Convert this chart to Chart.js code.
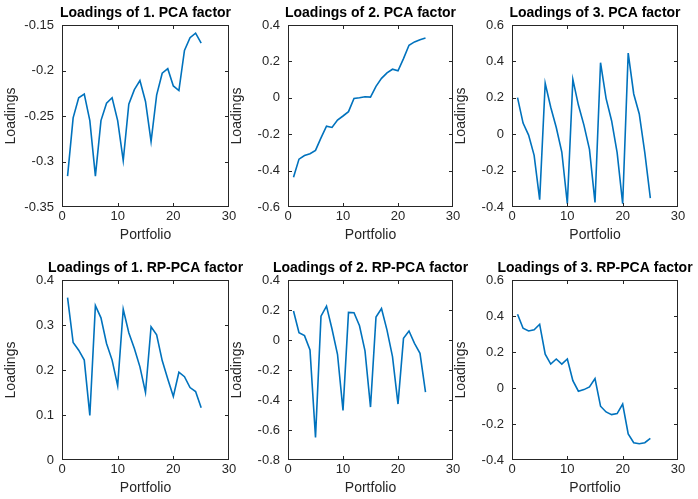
<!DOCTYPE html>
<html>
<head>
<meta charset="utf-8">
<script src="https://cdn.jsdelivr.net/npm/chart.js@4.4.0/dist/chart.umd.min.js"></script>
<style>
  body { margin: 0; background: #fff; width: 698px; height: 499px; position: relative; overflow: hidden; }
  canvas { position: absolute; }
</style>
</head>
<body>
<canvas id="p1"></canvas>
<canvas id="p2"></canvas>
<canvas id="p3"></canvas>
<canvas id="p4"></canvas>
<canvas id="p5"></canvas>
<canvas id="p6"></canvas>
<script>
// portfolio index on the x axis
const portfolios = [1, 2, 3, 4, 5, 6, 7, 8, 9, 10, 11, 12, 13, 14, 15, 16, 17, 18, 19, 20, 21, 22, 23, 24, 25];

// loadings
const pca1 = [-0.316, -0.252, -0.230, -0.226, -0.255, -0.316, -0.255, -0.236, -0.230, -0.255,
  -0.299, -0.237, -0.221, -0.211, -0.234, -0.278, -0.227, -0.203, -0.198, -0.217,
  -0.222, -0.178, -0.164, -0.159, -0.170];
const pca2 = [-0.437, -0.337, -0.317, -0.307, -0.289, -0.220, -0.156, -0.163, -0.122, -0.100,
  -0.076, -0.004, 0.000, 0.006, 0.004, 0.063, 0.107, 0.137, 0.157, 0.148,
  0.215, 0.289, 0.307, 0.319, 0.328];
const pca3 = [0.201, 0.061, -0.005, -0.116, -0.360, 0.280, 0.148, 0.037, -0.098, -0.382,
  0.301, 0.160, 0.050, -0.083, -0.375, 0.393, 0.197, 0.074, -0.101, -0.382,
  0.446, 0.221, 0.111, -0.101, -0.351];
const rppca1 = [0.361, 0.261, 0.244, 0.222, 0.099, 0.343, 0.316, 0.259, 0.222, 0.165,
  0.335, 0.283, 0.248, 0.207, 0.150, 0.296, 0.278, 0.221, 0.180, 0.141,
  0.195, 0.185, 0.161, 0.152, 0.116];
const rppca2 = [0.193, 0.049, 0.029, -0.066, -0.649, 0.159, 0.226, 0.073, -0.095, -0.469,
  0.184, 0.182, 0.095, -0.073, -0.447, 0.153, 0.210, 0.066, -0.111, -0.427,
  0.011, 0.060, -0.022, -0.089, -0.348];
const rppca3 = [0.410, 0.332, 0.317, 0.323, 0.354, 0.188, 0.133, 0.161, 0.133, 0.161,
  0.041, -0.018, -0.009, 0.006, 0.052, -0.101, -0.133, -0.148, -0.142, -0.089,
  -0.255, -0.304, -0.310, -0.304, -0.280];

// tick labels
const xTicks = [0, 10, 20, 30];
const pca1Ticks = [-0.35, -0.3, -0.25, -0.2, -0.15];
const pca2Ticks = [-0.6, -0.4, -0.2, 0, 0.2, 0.4];
const pca3Ticks = [-0.4, -0.2, 0, 0.2, 0.4, 0.6];
const rppca1Ticks = [0, 0.1, 0.2, 0.3, 0.4];
const rppca2Ticks = [-0.8, -0.6, -0.4, -0.2, 0, 0.2, 0.4];
const rppca3Ticks = [-0.4, -0.2, 0, 0.2, 0.4, 0.6];

const titles = [
  'Loadings of 1. PCA factor', 'Loadings of 2. PCA factor', 'Loadings of 3. PCA factor',
  'Loadings of 1. RP-PCA factor', 'Loadings of 2. RP-PCA factor', 'Loadings of 3. RP-PCA factor'
];

const FONT = '"Liberation Sans", Arial, Helvetica, sans-serif';
const AXIS_COLOR = '#262626';
const Y_AXIS_W = 62, X_AXIS_H = 43, TOP_PAD = 25, RIGHT_PAD = 30;

// box around the axes, inward ticks on all four sides, title centred over the plot
const matlabAxes = {
  id: 'matlabAxes',
  afterDraw(chart, args, opts) {
    const { ctx, chartArea: a, scales } = chart;
    const l = Math.round(a.left), r = Math.round(a.right) - 1;
    const t = Math.round(a.top), b = Math.round(a.bottom) - 1;
    ctx.save();
    ctx.fillStyle = AXIS_COLOR;
    // box, 1px lines
    ctx.fillRect(l, t, r - l + 1, 1);
    ctx.fillRect(l, b, r - l + 1, 1);
    ctx.fillRect(l, t, 1, b - t + 1);
    ctx.fillRect(r, t, 1, b - t + 1);
    // ticks pointing into the plot
    xTicks.forEach(v => {
      const px = Math.min(r, Math.round(scales.x.getPixelForValue(v)));
      ctx.fillRect(px, b - 3, 1, 3);
      ctx.fillRect(px, t + 1, 1, 3);
    });
    opts.yTicks.forEach(v => {
      const py = Math.min(b, Math.round(scales.y.getPixelForValue(v)));
      ctx.fillRect(l + 1, py, 3, 1);
      ctx.fillRect(r - 3, py, 3, 1);
    });

    ctx.fillStyle = '#000';
    ctx.font = 'bold 14px ' + FONT;
    ctx.textAlign = 'center';
    ctx.textBaseline = 'alphabetic';
    ctx.fillText(opts.text, (a.left + a.right) / 2, a.top - 8.5);
    ctx.restore();
  }
};

const panels = [
  { id: 'p1', values: pca1, ticks: pca1Ticks, left: 0, top: 0, w: 167, h: 182 },
  { id: 'p2', values: pca2, ticks: pca2Ticks, left: 226, top: 0, w: 165, h: 182 },
  { id: 'p3', values: pca3, ticks: pca3Ticks, left: 450, top: 0, w: 166, h: 182 },
  { id: 'p4', values: rppca1, ticks: rppca1Ticks, left: 0, top: 255, w: 167, h: 180 },
  { id: 'p5', values: rppca2, ticks: rppca2Ticks, left: 226, top: 255, w: 165, h: 180 },
  { id: 'p6', values: rppca3, ticks: rppca3Ticks, left: 450, top: 255, w: 166, h: 180 }
];

const fmt = v => String(+Number(v).toFixed(2));

panels.forEach((p, i) => {
  const canvas = document.getElementById(p.id);
  canvas.width = Y_AXIS_W + p.w + RIGHT_PAD;
  canvas.height = TOP_PAD + p.h + X_AXIS_H;
  canvas.style.left = p.left + 'px';
  canvas.style.top = p.top + 'px';

  const yMin = p.ticks[0], yMax = p.ticks[p.ticks.length - 1];

  new Chart(canvas.getContext('2d'), {
    type: 'line',
    data: {
      datasets: [{
        data: portfolios.map((x, k) => ({ x: x, y: p.values[k] })),
        borderColor: '#0072BD',
        borderWidth: 1.6,
        pointRadius: 0,
        tension: 0,
        fill: false
      }]
    },
    options: {
      responsive: false,
      animation: false,
      devicePixelRatio: 1,
      layout: { padding: { top: TOP_PAD, right: RIGHT_PAD, left: 0, bottom: 0 } },
      plugins: {
        legend: { display: false },
        tooltip: { enabled: false },
        matlabAxes: { text: titles[i], yTicks: p.ticks }
      },
      scales: {
        x: {
          type: 'linear',
          min: 0,
          max: 30,
          grid: { display: false, drawTicks: false },
          border: { display: false },
          afterBuildTicks: s => { s.ticks = xTicks.map(v => ({ value: v })); },
          afterFit: s => { s.height = X_AXIS_H; },
          ticks: { color: AXIS_COLOR, font: { family: FONT, size: 13 }, padding: 2, maxRotation: 0, callback: fmt },
          title: { display: true, text: 'Portfolio', color: AXIS_COLOR, font: { family: FONT, size: 14 }, padding: { top: 0, bottom: 6.5 } }
        },
        y: {
          type: 'linear',
          min: yMin,
          max: yMax,
          grid: { display: false, drawTicks: false },
          border: { display: false },
          afterBuildTicks: s => { s.ticks = p.ticks.map(v => ({ value: v })); },
          afterFit: s => { s.width = Y_AXIS_W; },
          ticks: { color: AXIS_COLOR, font: { family: FONT, size: 13 }, padding: 8, callback: fmt },
          title: { display: true, text: 'Loadings', color: AXIS_COLOR, font: { family: FONT, size: 14 }, padding: { top: 3, bottom: 0 } }
        }
      }
    },
    plugins: [matlabAxes]
  });
});
</script>
</body>
</html>
